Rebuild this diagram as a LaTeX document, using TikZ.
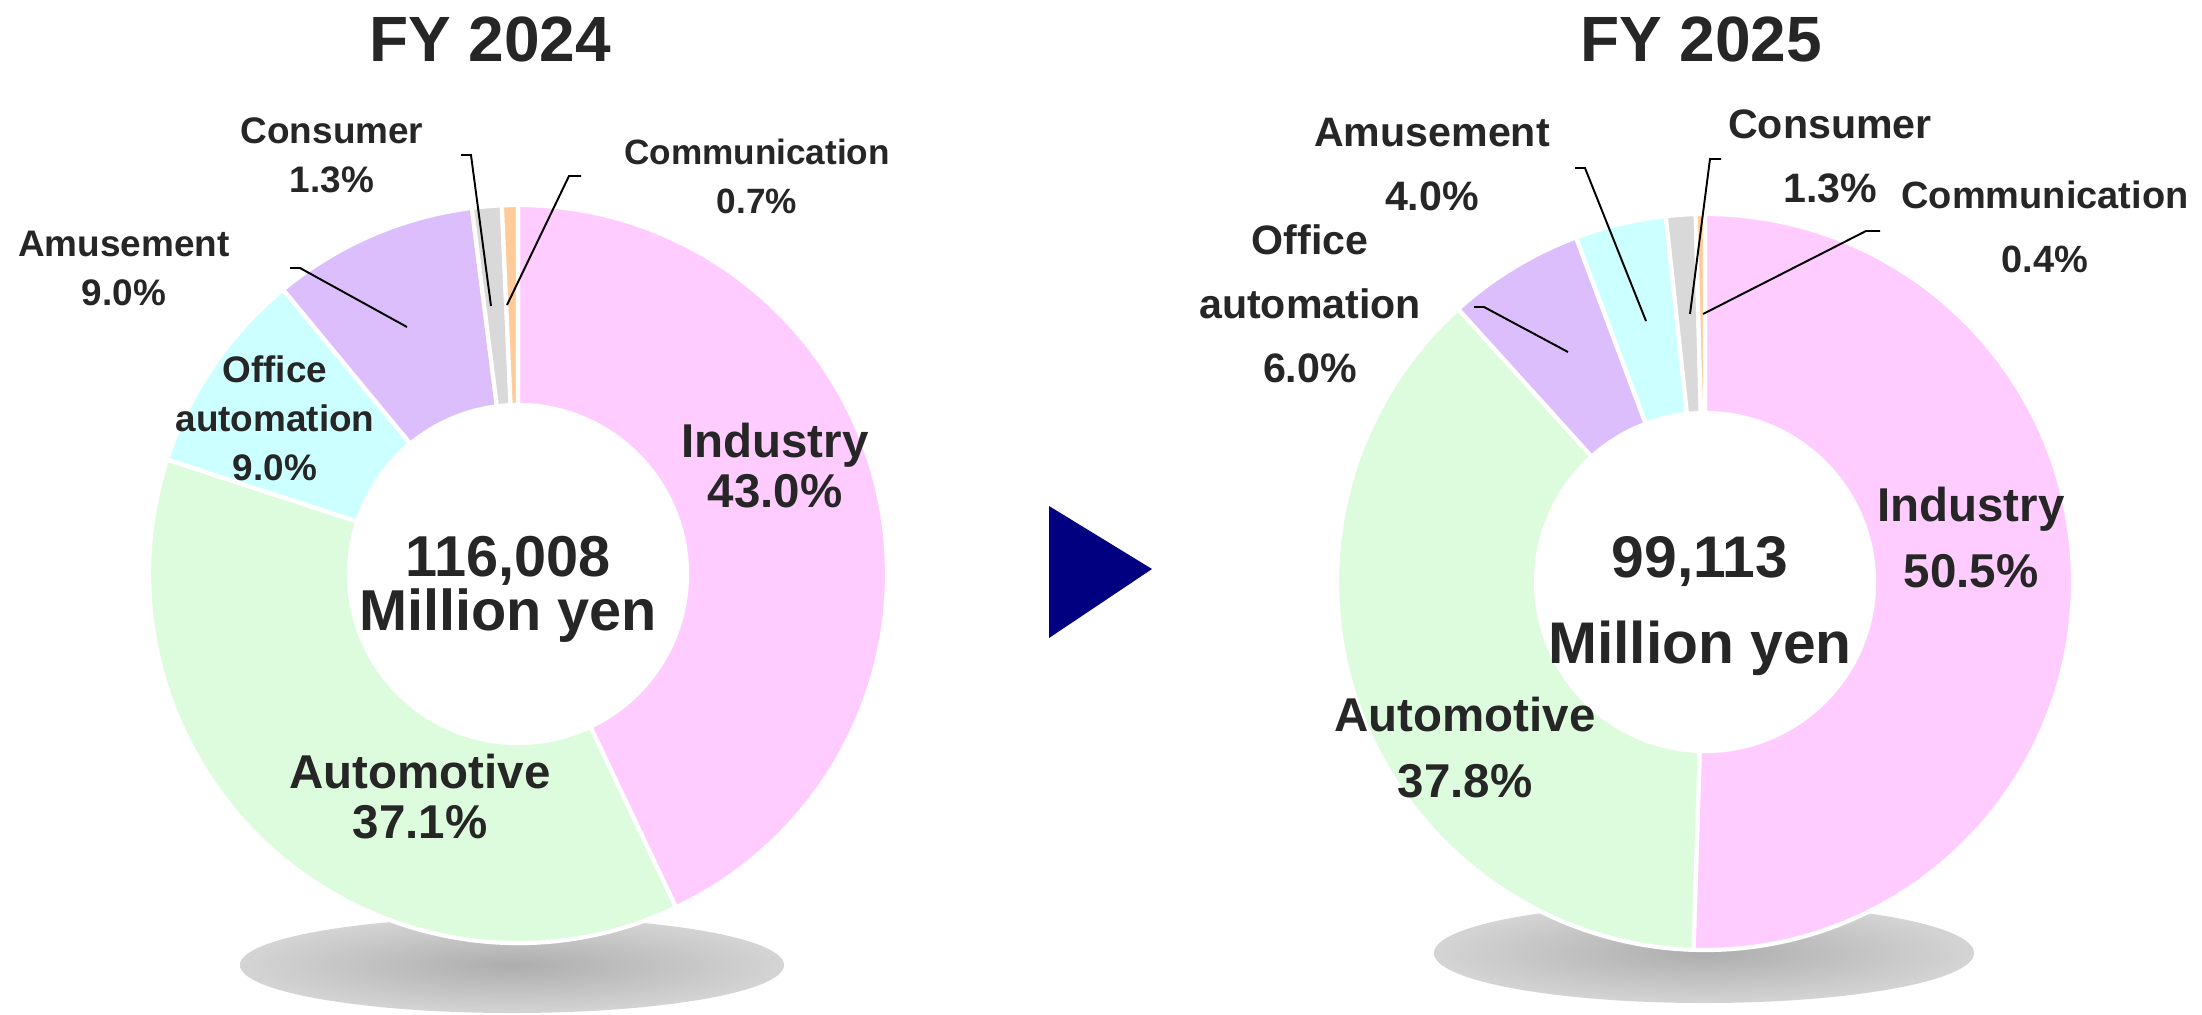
\documentclass[tikz,border=0pt]{standalone}
\usepackage{fontspec}
\setmainfont{Liberation Sans}
\definecolor{txt}{HTML}{262626}
\definecolor{indcol}{HTML}{FFCCFF}
\definecolor{autocol}{HTML}{DDFCDD}
\definecolor{cyancol}{HTML}{CCFFFF}
\definecolor{purpcol}{HTML}{DCBEFC}
\definecolor{conscol}{HTML}{D9D9D9}
\definecolor{commcol}{HTML}{FFCC99}
\definecolor{arrowcol}{HTML}{000080}
\pgfdeclareradialshading{shadowglow}{\pgfpoint{0bp}{0bp}}{color(0bp)=(black!32); color(28bp)=(black!15); color(50bp)=(black!9)}
\tikzset{
  slice/.style={draw=white, line width=1.2pt, line join=round},
  leader/.style={draw=black, line width=0.55pt},
  lbl/.style={text=txt, align=center, anchor=base, inner sep=0pt},
  title/.style={lbl, font=\fontsize{18.2}{22}\selectfont\bfseries},
  small24/.style={lbl, font=\fontsize{10.5}{13.9}\selectfont\bfseries},
  small25/.style={lbl, font=\fontsize{11.7}{18.2}\selectfont\bfseries},
  big24/.style={lbl, font=\fontsize{13.5}{14.2}\selectfont\bfseries},
  big25/.style={lbl, font=\fontsize{13.5}{18.5}\selectfont\bfseries},
  total24/.style={lbl, font=\fontsize{16.4}{15.2}\selectfont\bfseries},
  total25/.style={lbl, font=\fontsize{16.7}{24.2}\selectfont\bfseries}
}
\begin{document}
\begin{tikzpicture}[x=0.01cm, y=-0.01cm]
  \fill[white] (0,0) rectangle (2202,1014);
  \useasboundingbox (0,0) rectangle (2202,1014);

  % Shadows under the donuts
  \shade[shading=shadowglow] (512,965) ellipse [x radius=272, y radius=48];
  \shade[shading=shadowglow] (1704,953) ellipse [x radius=270, y radius=50];

  % FY 2024 donut
  \begin{scope}[shift={(518,574)}, yscale=-1]
    \foreach \a/\b/\col in {90/-64.65/indcol, -64.65/-198.08/autocol, -198.08/-230.45/cyancol,
                            -230.45/-262.82/purpcol, -262.82/-267.49/conscol, -267.49/-270/commcol} {
      \path[slice, fill=\col] (\a:369) arc[start angle=\a, end angle=\b, radius=369]
        -- (\b:169) arc[start angle=\b, end angle=\a, radius=169] -- cycle;
    }
  \end{scope}

  % FY 2025 donut
  \begin{scope}[shift={(1705,582)}, yscale=-1]
    \foreach \a/\b/\col in {90/-91.8/indcol, -91.8/-227.88/autocol, -227.88/-249.48/purpcol,
                            -249.48/-263.88/cyancol, -263.88/-268.56/conscol, -268.56/-270/commcol} {
      \path[slice, fill=\col] (\a:368) arc[start angle=\a, end angle=\b, radius=368]
        -- (\b:169) arc[start angle=\b, end angle=\a, radius=169] -- cycle;
    }
  \end{scope}

  % Arrow between the years
  \fill[arrowcol] (1049,506) -- (1049,638) -- (1152,569) -- cycle;

  % Titles
  \node[title] (title24) at (490,61) {FY 2024};
  \node[title] (title25) at (1701,61) {FY 2025};

  % FY 2024 labels (anchored at the last line)
  \node[small24] (cons24) at (332,192) {Consumer\\1.3\%};
  \node[small24, font=\fontsize{10}{13.9}\selectfont\bfseries] (comm24) at (757,213) {Communication\\0.7\%};
  \node[small24] (amus24) at (124,305) {Amusement\\9.0\%};
  \node[small24] (oa24) at (275,480) {Office\\automation\\9.0\%};
  \node[big24] (ind24) at (775,507) {Industry\\43.0\%};
  \node[total24] (tot24) at (508,630) {116,008\\Million yen};
  \node[big24] (auto24) at (420,838) {Automotive\\37.1\%};

  % FY 2025 labels
  \node[small25] (amus25) at (1432,210) {Amusement\\4.0\%};
  \node[small25] (cons25) at (1830,202) {Consumer\\1.3\%};
  \node[small25, font=\fontsize{10.8}{18.2}\selectfont\bfseries] (comm25) at (2045,272) {Communication\\0.4\%};
  \node[small25] (oa25) at (1310,382) {Office\\automation\\6.0\%};
  \node[big25] (ind25) at (1971,587) {Industry\\50.5\%};
  \node[total25] (tot25) at (1700,663) {99,113\\Million yen};
  \node[big25] (auto25) at (1465,797) {Automotive\\37.8\%};

  % Leader lines FY 2024
  \coordinate (cons24a) at (461,155); \coordinate (cons24b) at (471,155); \coordinate (cons24c) at (491,306);
  \coordinate (comm24a) at (581,176); \coordinate (comm24b) at (569,176); \coordinate (comm24c) at (507,305);
  \coordinate (amus24a) at (290,268); \coordinate (amus24b) at (300,268); \coordinate (amus24c) at (407,327);
  \draw[leader] (cons24a) -- (cons24b) -- (cons24c);
  \draw[leader] (comm24a) -- (comm24b) -- (comm24c);
  \draw[leader] (amus24a) -- (amus24b) -- (amus24c);

  % Leader lines FY 2025
  \coordinate (amus25a) at (1575,168); \coordinate (amus25b) at (1585,168); \coordinate (amus25c) at (1646,321);
  \coordinate (cons25a) at (1721,159); \coordinate (cons25b) at (1710,159); \coordinate (cons25c) at (1690,314);
  \coordinate (comm25a) at (1880,231); \coordinate (comm25b) at (1866,231); \coordinate (comm25c) at (1703,314);
  \coordinate (oa25a) at (1474,307); \coordinate (oa25b) at (1484,307); \coordinate (oa25c) at (1568,352);
  \draw[leader] (amus25a) -- (amus25b) -- (amus25c);
  \draw[leader] (cons25a) -- (cons25b) -- (cons25c);
  \draw[leader] (comm25a) -- (comm25b) -- (comm25c);
  \draw[leader] (oa25a) -- (oa25b) -- (oa25c);
\end{tikzpicture}
\end{document}
